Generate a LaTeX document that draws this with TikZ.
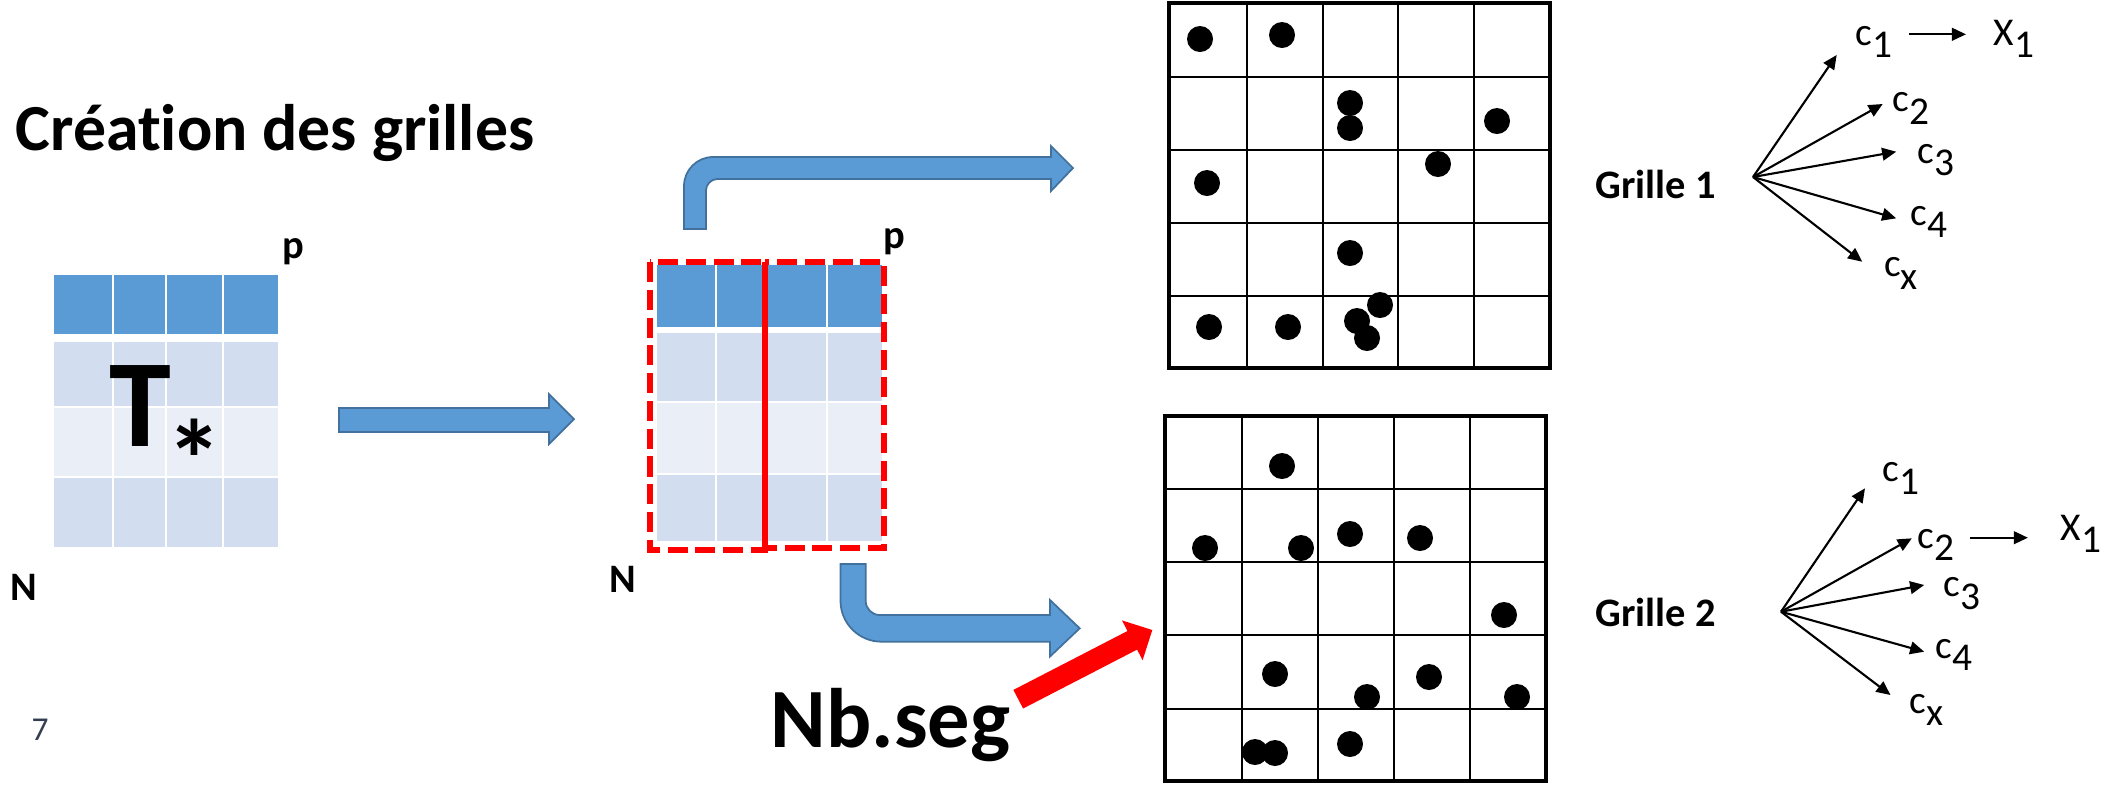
\documentclass[tikz,border=0pt]{standalone}
\usepackage{fontspec}
\setmainfont{Carlito}[Ligatures=NoCommon]
\usetikzlibrary{arrows.meta}
\definecolor{hdr}{HTML}{5B9BD5}
\definecolor{rowa}{HTML}{D2DEEF}
\definecolor{rowb}{HTML}{EAEFF7}
\definecolor{arrowedge}{HTML}{41719C}
\definecolor{pgnum}{HTML}{333F50}
\newcommand\myfs[1]{\fontsize{#1}{#1}\selectfont}
\newcommand\csub[1]{c\raisebox{-0.32em}{#1}}
\newcommand\Xsub[1]{X\raisebox{-0.32em}{#1}}
\tikzset{
  blk/.style={fill=hdr, draw=arrowedge, line width=0.5pt, line join=miter},
  gline/.style={line width=0.55pt},
  gframe/.style={line width=0.95pt},
  dot/.style={fill=black},
  fan/.style={line width=0.6pt, -{Triangle[length=4pt,width=3.6pt]}},
  lbl/.style={inner sep=0, anchor=base west, font=\myfs{11.2pt}},
  bl/.style={inner sep=0, anchor=base west, font=\bfseries\myfs{11.5pt}},
  sep/.style={white, line width=0.6pt},
  reddash/.style={red, line width=1.7pt, dash pattern=on 5.7pt off 2.2pt},
}
\begin{document}
\begin{tikzpicture}[x=0.01cm,y=-0.01cm]
\useasboundingbox (0,0) rectangle (2105,787);

% title
\node[anchor=base west, inner sep=0, font=\bfseries\myfs{18.7pt}] (title) at (15,150) {Création des grilles};

% left table
\fill[hdr] (54,275) rectangle (278,334);
\fill[rowa] (54,341.7) rectangle (278,406.7);
\fill[rowb] (54,406.7) rectangle (278,477);
\fill[rowa] (54,477) rectangle (278,546.7);
\foreach \x in {113,166,223} \draw[sep] (\x,273) -- (\x,549);
\foreach \y in {406.7,477} \draw[sep] (52,\y) -- (280,\y);
\node[anchor=base west, inner sep=0, font=\bfseries\myfs{35.5pt}] (T) at (109,446.7) {T\kern-1.3pt\raisebox{-14.9pt}{\myfs{32pt}*}};
\node[bl] (pL) at (282,258) {p};
\node[bl] (NL) at (9.6,600) {N};

% straight arrow
\draw[blk] (339,408) -- (549,408) -- (549,394) -- (574,419) -- (549,444) -- (549,432) -- (339,432) -- cycle;

% middle table
\fill[hdr] (657,265) rectangle (882,327);
\fill[rowa] (657,333) rectangle (882,402);
\fill[rowb] (657,402) rectangle (882,474);
\fill[rowa] (657,474) rectangle (882,541);
\foreach \x in {716,827} \draw[sep] (\x,263) -- (\x,543);
\foreach \y in {402,474} \draw[sep] (655,\y) -- (884,\y);
\draw[reddash] (650,262) rectangle (765,550);
\draw[reddash] (765,262) rectangle (884,548);
\draw[red, line width=1.8pt] (765,262) -- (765,548);
\node[bl] (pM) at (883,248) {p};
\node[bl] (NM) at (609,592) {N};

% bent arrow up
\draw[blk] (684,229) -- (684,186) .. controls (684,170) and (697,157) .. (713,157) -- (1051,157) -- (1051,146) -- (1073,168) -- (1051,191) -- (1051,179) -- (717,179) .. controls (711,179) and (706,185) .. (706,190) -- (706,229) -- cycle;

% bent arrow down
\draw[blk] (840.5,564) -- (840.5,600.7) .. controls (840.5,623.4) and (858.9,641.7) .. (881.5,641.7) -- (1050,641.7) -- (1050,656.5) -- (1079.7,628.3) -- (1050,600) -- (1050,615) -- (879.7,615) .. controls (872,615) and (865.7,608.7) .. (865.7,601) -- (865.7,564) -- cycle;

% Nb.seg and red arrow
\node[anchor=base west, inner sep=0, font=\bfseries\myfs{24pt}] (nbseg) at (770,747) {Nb.seg};
\fill[red] (1013.4,689.9) -- (1127.5,631.0) -- (1122.0,620.4) -- (1152.3,630) -- (1142.6,660.2) -- (1137.1,649.6) -- (1023.1,708.5) -- cycle;

% page number
\node[anchor=base west, inner sep=0, text=pgnum, font=\myfs{9.5pt}] (pg) at (31,740) {7};

% grid 1
\foreach \x in {1247,1323,1398,1474} \draw[gline] (\x,3) -- (\x,368);
\foreach \y in {77,150,223,296} \draw[gline] (1169,\y) -- (1550,\y);
\draw[gframe] (1169,3) rectangle (1550,368);
\foreach \p in {(1200,39),(1282,35),(1350,103),(1350,128),(1497,121),(1438,164),(1207,183),(1350,253),(1209,327),(1288,327),(1380,305),(1357,321),(1367,338)}
  \fill[dot] \p circle[radius=13];

% grid 2
\foreach \x in {1242,1318,1394,1470} \draw[gline] (\x,416) -- (\x,781);
\foreach \y in {489,562,635,709} \draw[gline] (1165,\y) -- (1546,\y);
\draw[gframe] (1165,416) rectangle (1546,781);
\foreach \p in {(1282,466),(1205,548),(1301,548),(1350,534),(1420,538),(1504,615),(1275,674),(1367,697),(1429,677),(1517,697),(1255,752),(1275,753),(1350,744)}
  \fill[dot] \p circle[radius=13];

% fan 1
\node[bl] (g1) at (1595,198) {Grille 1};
\coordinate (o1) at (1753,177);
\node[lbl] (a1) at (1855,45) {\csub{1}};
\node[lbl] (a2) at (1892,111.7) {\csub{2}};
\node[lbl] (a3) at (1917,163.3) {\csub{3}};
\node[lbl] (a4) at (1910,225) {\csub{4}};
\node[lbl] (ax) at (1883.5,276.7) {\csub{x}};
\node[lbl] (X1a) at (1993,45) {\Xsub{1}};
\coordinate (t1) at (1836.7,55);
\coordinate (t2) at (1882.7,104);
\coordinate (t3) at (1896.2,151.7);
\coordinate (t4) at (1896.2,218.3);
\coordinate (tx) at (1862.2,261.7);
\foreach \t in {t1,t2,t3,t4,tx} \draw[fan] (o1) -- (\t);
\coordinate (s1) at (1909.3,34.3);
\coordinate (e1) at (1966,34.3);
\draw[fan] (s1) -- (e1);

% fan 2
\node[bl] (g2) at (1595,626.7) {Grille 2};
\coordinate (o2) at (1781,611.7);
\node[lbl] (b1) at (1882,481.7) {\csub{1}};
\node[lbl] (b2) at (1917,548.3) {\csub{2}};
\node[lbl] (b3) at (1943,596.7) {\csub{3}};
\node[lbl] (b4) at (1935,658.3) {\csub{4}};
\node[lbl] (bx) at (1909,713.3) {\csub{x}};
\node[lbl] (X1b) at (2060,540) {\Xsub{1}};
\coordinate (u1) at (1865,488.3);
\coordinate (u2) at (1911.8,538.3);
\coordinate (u3) at (1924.2,585);
\coordinate (u4) at (1924.2,651.7);
\coordinate (ux) at (1890.5,695);
\foreach \t in {u1,u2,u3,u4,ux} \draw[fan] (o2) -- (\t);
\coordinate (s2) at (1969.5,537.7);
\coordinate (e2) at (2027.9,537.7);
\draw[fan] (s2) -- (e2);
\end{tikzpicture}
\end{document}
